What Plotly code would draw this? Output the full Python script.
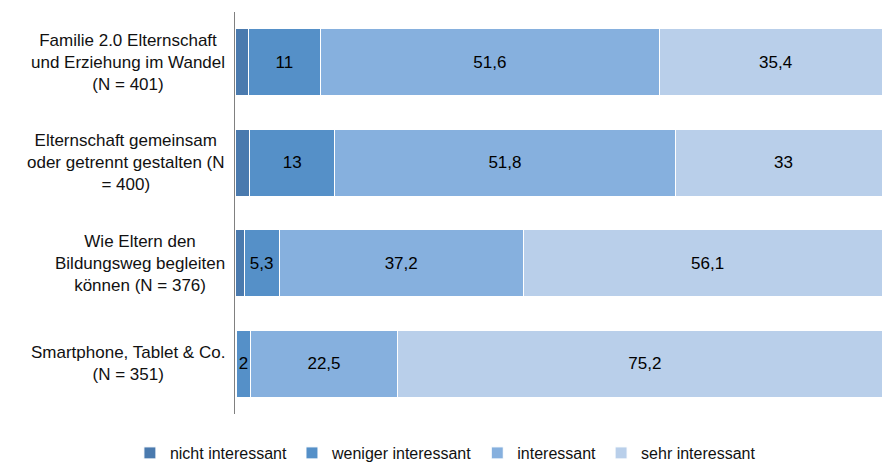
import plotly.graph_objects as go

categories = [
    "Familie 2.0 Elternschaft<br>und Erziehung im Wandel<br>(N = 401)",
    "Elternschaft gemeinsam<br>oder getrennt gestalten (N<br>= 400)",
    "Wie Eltern den<br>Bildungsweg begleiten<br>können (N = 376)",
    "Smartphone, Tablet & Co.<br>(N = 351)",
]
nicht_interessant = [2.0, 2.2, 1.4, 0.3]
weniger_interessant = [11, 13, 5.3, 2]
interessant = [51.6, 51.8, 37.2, 22.5]
sehr_interessant = [35.4, 33, 56.1, 75.2]

series = [
    ("nicht interessant", nicht_interessant, "#4a7aae", False),
    ("weniger interessant", weniger_interessant, "#5590c8", True),
    ("interessant", interessant, "#86b0de", True),
    ("sehr interessant", sehr_interessant, "#b9cfea", True),
]

FONT = "Liberation Sans, Arial, sans-serif"

def fmt(v):
    return ("%g" % v).replace(".", ",")

fig = go.Figure()
for name, vals, color, show_text in series:
    fig.add_trace(go.Bar(
        name=name,
        y=categories,
        x=vals,
        orientation="h",
        marker=dict(color=color, line=dict(color="white", width=1)),
        text=[fmt(v) for v in vals] if show_text else None,
        textposition="inside" if show_text else "none",
        insidetextanchor="middle",
        textangle=0,
        constraintext="none",
        textfont=dict(family=FONT, size=17, color="#000000"),
        hoverinfo="skip",
    ))

for c in categories:
    fig.add_annotation(
        x=0, xref="paper", y=c, yref="y",
        text=c, showarrow=False, xanchor="right", yanchor="middle",
        align="center", xshift=-8,
        font=dict(family=FONT, size=17, color="#111111"),
    )

fig.update_layout(
    autosize=False,
    barmode="stack",
    bargap=0.33,
    width=882, height=470,
    margin=dict(l=235, r=0, t=12, b=56),
    paper_bgcolor="white",
    plot_bgcolor="white",
    font=dict(family=FONT, size=17, color="#111111"),
    xaxis=dict(range=[0, 98.5], visible=False, fixedrange=True),
    yaxis=dict(
        autorange="reversed",
        showticklabels=False,
        showline=True, linecolor="#808080", linewidth=1,
        showgrid=False, zeroline=False, ticks="",
        fixedrange=True,
    ),
    legend=dict(
        orientation="h",
        xref="container", yref="container",
        x=0.505, xanchor="center",
        y=0.0, yanchor="bottom",
        font=dict(family=FONT, size=16, color="#111111"),
        traceorder="normal",
        itemwidth=30,
    ),
    showlegend=True,
)

post = ("document.body.style.margin='0';"
        "document.body.style.padding='0';"
        "document.documentElement.style.overflow='hidden';")

fig.write_html("out.html", post_script=post,
               config={"responsive": False, "displayModeBar": False})
